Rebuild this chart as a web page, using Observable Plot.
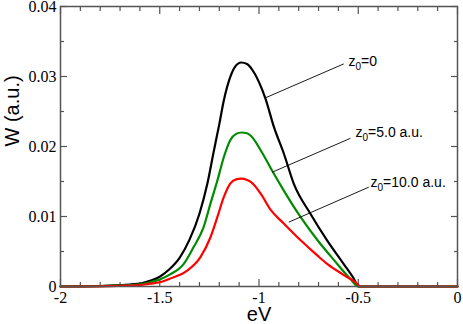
<!DOCTYPE html>
<html>
<head>
<meta charset="utf-8">
<script src="https://cdn.jsdelivr.net/npm/d3@7"></script>
<script src="https://cdn.jsdelivr.net/npm/@observablehq/plot@0.6"></script>
<style>
  html, body { margin: 0; padding: 0; background: #fff; }
  #chart { width: 463px; height: 324px; }
</style>
</head>
<body>
<div id="chart"></div>
<script>
// ---- data ----
const seriesNames = ["z0=0", "z0=5.0 a.u.", "z0=10.0 a.u."];
const seriesColors = ["#000000", "#008b00", "#ff0000"];

const blackX = [-2.0, -1.9, -1.8, -1.7, -1.6, -1.55, -1.5, -1.45, -1.4, -1.35, -1.3, -1.26, -1.23, -1.2, -1.177, -1.145, -1.12, -1.09, -1.06, -1.04, -1.0, -0.967, -0.925, -0.875, -0.825, -0.741, -0.657, -0.573, -0.52, -0.5, -0.4, -0.2, 0.0];
const blackY = [0, 0.00002, 0.00007, 0.0002, 0.0004, 0.0008, 0.0014, 0.0025, 0.0041, 0.0067, 0.0104, 0.0147, 0.0190, 0.0232, 0.0266, 0.0299, 0.0314, 0.0320, 0.0318, 0.0312, 0.0292, 0.0268, 0.0228, 0.0190, 0.0147, 0.0104, 0.0066, 0.0032, 0.0010, 0, 0, 0, 0];

const greenX = [-2.0, -1.8, -1.7, -1.6, -1.55, -1.5, -1.45, -1.38, -1.33, -1.28, -1.245, -1.21, -1.177, -1.145, -1.115, -1.088, -1.06, -1.04, -0.99, -0.935, -0.875, -0.79, -0.705, -0.62, -0.54, -0.5, -0.3, 0.0];
const greenY = [0, 0.00005, 0.00015, 0.0003, 0.0006, 0.0010, 0.0017, 0.0032, 0.0056, 0.0084, 0.0118, 0.0151, 0.0185, 0.0209, 0.0218, 0.0220, 0.0219, 0.0215, 0.0194, 0.0166, 0.0137, 0.0099, 0.0066, 0.0037, 0.0011, 0, 0, 0];

const redX = [-2.0, -1.8, -1.7, -1.6, -1.55, -1.5, -1.45, -1.36, -1.295, -1.245, -1.21, -1.177, -1.145, -1.115, -1.088, -1.06, -1.04, -0.99, -0.94, -0.875, -0.79, -0.705, -0.655, -0.57, -0.505, -0.49, -0.3, 0.0];
const redY = [0, 0.00003, 0.0001, 0.0002, 0.0004, 0.0006, 0.0011, 0.0023, 0.0042, 0.0070, 0.0099, 0.0128, 0.0147, 0.0153, 0.0154, 0.0152, 0.0149, 0.0132, 0.0109, 0.0090, 0.0066, 0.0044, 0.0032, 0.0016, 0.0004, 0, 0, 0];

const xMajor = [-2, -1.5, -1, -0.5, 0];
const xMinor = [-1.9, -1.8, -1.7, -1.6, -1.4, -1.3, -1.2, -1.1, -0.9, -0.8, -0.7, -0.6, -0.4, -0.3, -0.2, -0.1];
const yMajor = [0, 0.01, 0.02, 0.03, 0.04];
const yMinor = [0.005, 0.015, 0.025, 0.035];

// annotation leaders (data units)
const annLabels = ["z0=0", "z0=5.0 a.u.", "z0=10.0 a.u."];
const annX1 = [-0.967, -0.9335, -0.850];
const annY1 = [0.02696, 0.01633, 0.00919];
const annX2 = [-0.573, -0.539, -0.447];
const annY2 = [0.0318, 0.02117, 0.01419];
const annTextX = [-0.549, -0.514, -0.438];
const annTextY = [0.03207, 0.0220, 0.01479];

// ---- build tables ----
const rows = [];
[[blackX, blackY], [greenX, greenY], [redX, redY]].forEach(([xs, ys], i) => {
  xs.forEach((x, j) => rows.push({series: seriesNames[i], x, y: ys[j]}));
});
const ann = annLabels.map((label, i) => ({
  label, x1: annX1[i], y1: annY1[i], x2: annX2[i], y2: annY2[i], tx: annTextX[i], ty: annTextY[i]
}));

const axisColor = "#555";
const major = 7, minor = 4;
const tickOpts = (anchor, size) => {
  const o = {anchor, tickSize: size, fill: "none", label: null, stroke: axisColor, strokeWidth: 1.2};
  if (anchor === "bottom") o.dy = -size;
  if (anchor === "top") o.dy = size;
  if (anchor === "left") o.dx = size;
  if (anchor === "right") o.dx = -size;
  return o;
};
const sans = "'Liberation Sans', Arial, sans-serif";
const serif = "'Liberation Serif', 'Times New Roman', 'DejaVu Serif', serif";

const chart = Plot.plot({
  width: 463,
  height: 324,
  marginLeft: 60,
  marginRight: 6,
  marginTop: 6,
  marginBottom: 38,
  style: {background: "#fff", color: "#000"},
  x: {domain: [-2, 0]},
  y: {domain: [0, 0.04]},
  color: {domain: seriesNames, range: seriesColors},
  marks: [
    // ticks (inward, all four sides)
    Plot.axisX(xMajor, tickOpts("bottom", major)),
    Plot.axisX(xMinor, tickOpts("bottom", minor)),
    Plot.axisX(xMajor, tickOpts("top", major)),
    Plot.axisX(xMinor, tickOpts("top", minor)),
    Plot.axisY(yMajor, tickOpts("left", major)),
    Plot.axisY(yMinor, tickOpts("left", minor)),
    Plot.axisY(yMajor, tickOpts("right", major)),
    Plot.axisY(yMinor, tickOpts("right", minor)),
    // tick labels
    Plot.axisX(xMajor, {anchor: "bottom", tickSize: 0, tickPadding: 5, label: null,
      tickFormat: d => String(d), fill: "#000", fontSize: 16}),
    Plot.axisY(yMajor, {anchor: "left", tickSize: 0, tickPadding: 4, label: null,
      tickFormat: d => String(d), fill: "#000", fontSize: 16}),
    // curves
    Plot.line(rows, {x: "x", y: "y", z: "series", stroke: "series", strokeWidth: 2.2, curve: "monotone-x"}),
    // annotation leaders
    Plot.link(ann, {x1: "x1", y1: "y1", x2: "x2", y2: "y2", stroke: "#000", strokeWidth: 0.9}),
    Plot.text(ann, {x: "tx", y: "ty", text: "label", textAnchor: "start", lineAnchor: "middle",
      fontFamily: sans, fontSize: 14, fill: "#000"}),
    // frame
    Plot.frame({stroke: axisColor, strokeWidth: 1.5}),
    // axis titles
    Plot.text(["eV"], {frameAnchor: "bottom", text: d => d, lineAnchor: "top", dy: 20,
      fontFamily: sans, fontSize: 20, fill: "#000"}),
    Plot.text(["W (a.u.)"], {frameAnchor: "left", text: d => d, rotate: -90, dx: -48,
      fontFamily: sans, fontSize: 20, fill: "#000"})
  ]
});

const ns = "http://www.w3.org/2000/svg";
chart.querySelectorAll("text").forEach(t => {
  const s = t.textContent;
  // tick labels in a serif face
  if (/^-?[\d.]+$/.test(s)) {
    t.style.fontFamily = serif;
    t.style.fontSize = "16px";
  }
  // subscript the "0" in z0 labels
  if (/^z0=/.test(s)) {
    const rest = s.slice(2);
    while (t.firstChild) t.removeChild(t.firstChild);
    const a = document.createElementNS(ns, "tspan"); a.textContent = "z";
    const b = document.createElementNS(ns, "tspan"); b.textContent = "0";
    b.setAttribute("font-size", "10"); b.setAttribute("dy", "4");
    const c = document.createElementNS(ns, "tspan"); c.textContent = rest;
    c.setAttribute("dy", "-4");
    t.appendChild(a); t.appendChild(b); t.appendChild(c);
  }
});

document.getElementById("chart").appendChild(chart);
</script>
</body>
</html>
